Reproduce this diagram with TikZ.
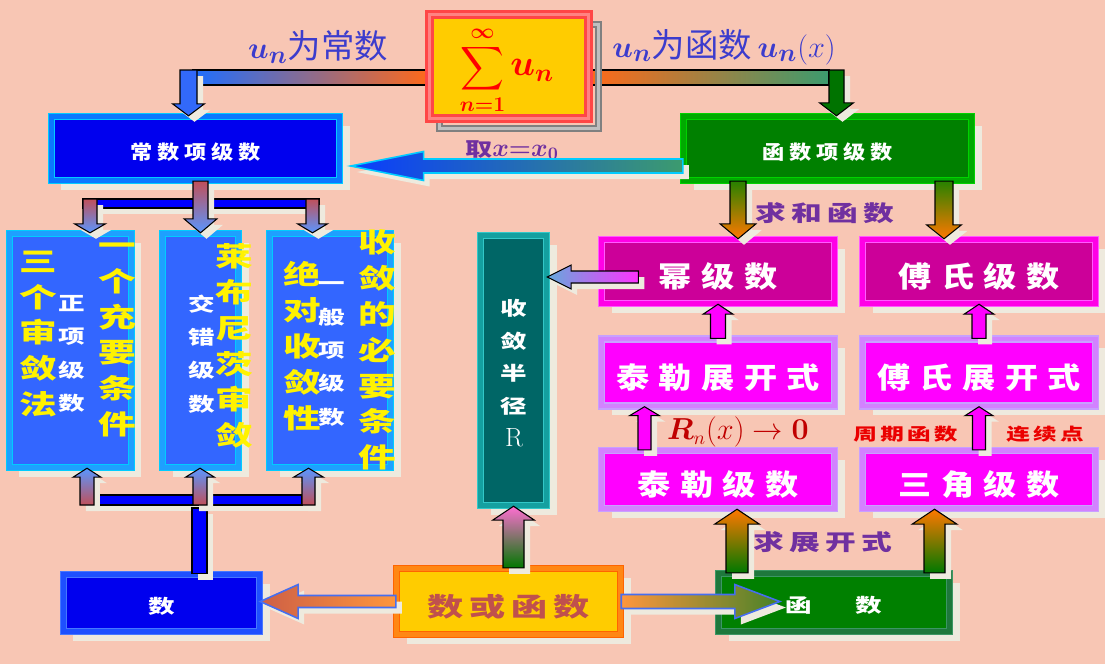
\documentclass[tikz,border=0pt]{standalone}
\usepackage{exscale}
\usepackage{fontspec}
\usepackage{bm}
\usetikzlibrary{calc,shadows}
\newfontfamily\hzn{Noto Sans CJK SC}
\newfontfamily\hz{Noto Sans CJK SC}[FakeStretch=1.15]
\newfontfamily\hzk{Noto Sans CJK SC}[FakeStretch=1.4]
\pgfdeclarelayer{unten}
\pgfsetlayers{unten,main}

\definecolor{hg}{RGB}{248,198,180}
\definecolor{schatten}{RGB}{238,234,222}
\definecolor{dblau}{RGB}{0,0,238}
\definecolor{mblau}{RGB}{51,102,255}
\definecolor{hcyan}{RGB}{0,204,255}
\definecolor{blaurand}{RGB}{10,120,255}
\definecolor{cyanband}{RGB}{30,160,255}
\definecolor{dgruen}{RGB}{0,128,0}
\definecolor{hgruen}{RGB}{0,210,0}
\definecolor{gruenband}{RGB}{0,170,0}
\definecolor{seegruen}{RGB}{60,150,100}
\definecolor{seeband}{RGB}{30,120,60}
\definecolor{rosa}{RGB}{255,0,255}
\definecolor{purpur}{RGB}{204,0,153}
\definecolor{rosarand}{RGB}{255,90,255}
\definecolor{purpurband}{RGB}{255,0,230}
\definecolor{lavendel}{RGB}{200,160,255}
\definecolor{lavband}{RGB}{210,130,255}
\definecolor{petrol}{RGB}{0,102,102}
\definecolor{tuerkis}{RGB}{50,200,200}
\definecolor{tuerkisband}{RGB}{20,160,160}
\definecolor{gold}{RGB}{255,204,0}
\definecolor{orangerand}{RGB}{255,100,0}
\definecolor{orangeband}{RGB}{255,135,20}
\definecolor{rotrand}{RGB}{255,70,70}
\definecolor{hellrot}{RGB}{255,130,130}
\definecolor{shublau}{RGB}{70,120,255}
\definecolor{shuband}{RGB}{30,80,255}
\definecolor{textblau}{RGB}{60,60,205}
\definecolor{textlila}{RGB}{112,48,160}
\definecolor{textrot}{RGB}{192,0,0}
\definecolor{knallrot}{RGB}{235,0,0}
\definecolor{rostbraun}{RGB}{192,80,77}
\definecolor{pblau}{RGB}{50,105,250}
\definecolor{pgruen}{RGB}{0,115,0}
\definecolor{bblau}{RGB}{30,110,255}
\definecolor{borange}{RGB}{255,105,25}
\definecolor{bteal}{RGB}{60,155,110}
\definecolor{qblau}{RGB}{10,60,255}
\definecolor{rbraun}{RGB}{192,80,90}
\definecolor{hblau}{RGB}{90,150,255}
\definecolor{rostrot}{RGB}{205,95,70}
\definecolor{porange}{RGB}{255,150,60}
\definecolor{oliv}{RGB}{70,130,40}
\definecolor{pinkhell}{RGB}{255,110,210}
\definecolor{gruenpf}{RGB}{0,120,0}
\definecolor{dorange}{RGB}{255,120,0}
\definecolor{gruenoben}{RGB}{40,130,0}
\definecolor{eisblau}{RGB}{100,170,220}
\definecolor{pinkpf}{RGB}{255,50,255}
\definecolor{rahmenblau}{RGB}{70,110,240}
\definecolor{reinblau}{RGB}{0,0,255}

\tikzset{
    kasten/.style={inner sep=0pt, line width=0.8pt, double distance=2.4pt,
        general shadow={fill=schatten, draw=none, shadow xshift=0.2cm, shadow yshift=-0.18cm}},
    gr/.style 2 args={minimum width=#1*0.02cm, minimum height=#2*0.02cm},
    blaukasten/.style={kasten, fill=dblau, draw=hcyan, double=blaurand},
    mittelkasten/.style={kasten, fill=mblau, draw=hcyan, double=cyanband},
    gruenkasten/.style={kasten, fill=dgruen, draw=hgruen, double=gruenband},
    seekasten/.style={kasten, fill=dgruen, draw=seegruen, double=seeband},
    purpurkasten/.style={kasten, fill=purpur, draw=rosarand, double=purpurband},
    rosakasten/.style={kasten, fill=rosa, draw=lavendel, double=lavband},
    petrolkasten/.style={kasten, fill=petrol, draw=tuerkis, double=tuerkisband},
    goldkasten/.style={kasten, fill=gold, draw=orangerand, double=orangeband},
    shukasten/.style={kasten, fill=dblau, draw=shublau, double=shuband},
    summenkasten/.style={inner sep=0pt, fill=gold, draw=rotrand, double=hellrot,
        line width=1.2pt, double distance=2.2pt,
        general shadow={fill=none, draw=gray, double=lightgray, line width=1pt,
            double distance=2pt, shadow xshift=0.2cm, shadow yshift=-0.2cm}},
    weiss/.style={text=white, text height=13.7pt, text depth=1.3pt,
        font=\fontsize{11}{13}\selectfont\hz\bfseries\addfontfeature{LetterSpace=24}},
    gross/.style={text=white, text height=20pt, text depth=2pt,
        font=\fontsize{16.4}{18}\selectfont\hz\bfseries\addfontfeature{LetterSpace=33}},
    einzeln/.style={text=white, text height=13.1pt, text depth=1.3pt,
        font=\fontsize{10.8}{13}\selectfont\hzk\bfseries},
    goldschrift/.style={text=rostbraun, text height=19.1pt, text depth=1.8pt,
        font=\fontsize{14.7}{17}\selectfont\hzk\bfseries\addfontfeature{LetterSpace=23}},
    gelb/.style={text=yellow, align=center, font=\fontsize{15.3}{20.4}\selectfont\hzk\bfseries},
    klein/.style={text=white, align=center, font=\fontsize{10.8}{19}\selectfont\hzk\bfseries},
    blauschrift/.style={text=textblau, font=\fontsize{19}{21}\selectfont\hzn},
    lilaschrift/.style={text=textlila, font=\fontsize{12.5}{14}\selectfont\hzk\bfseries\addfontfeature{LetterSpace=23}},
    rotschrift/.style={text=knallrot, font=\fontsize{9.6}{11}\selectfont\hzk\bfseries\addfontfeature{LetterSpace=19}},
    pfeilrand/.style={line width=0.6pt,
        general shadow={fill=schatten, draw=none, shadow xshift=0.12cm, shadow yshift=-0.12cm}},
    pfeil/.style n args={3}{to path={
        -- ($(\tikztostart)!#1*0.02cm!90:(\tikztotarget)$)
        -- ($($(\tikztotarget)!#3*0.02cm!(\tikztostart)$)!#1*0.02cm!90:(\tikztotarget)$)
        -- ($($(\tikztotarget)!#3*0.02cm!(\tikztostart)$)!#2*0.02cm!90:(\tikztotarget)$)
        -- (\tikztotarget)
        -- ($($(\tikztotarget)!#3*0.02cm!(\tikztostart)$)!#2*0.02cm!-90:(\tikztotarget)$)
        -- ($($(\tikztotarget)!#3*0.02cm!(\tikztostart)$)!#1*0.02cm!-90:(\tikztotarget)$)
        -- ($(\tikztostart)!#1*0.02cm!-90:(\tikztotarget)$)
        -- cycle}}
}

\begin{document}
\begin{tikzpicture}[x=0.02cm,y=-0.02cm]
    \useasboundingbox (0,0) rectangle (1105,664);
    \begin{pgfonlayer}{unten}
        \fill[hg] (0,0) rectangle (1105,664);
    \end{pgfonlayer}

    \node[summenkasten, gr={159}{104}] (sum) at (509,66.5) {};
    \node[text=red, inner sep=0pt] (sumtext) at (507,70)
        {\fontsize{17}{19}\selectfont$\displaystyle\sum_{\bm{n=1}}^{\bm{\infty}}\mbox{\fontsize{20}{22}\selectfont$\bm{u}_{\bm{n}}$}$};
    \node[blaukasten, gr={288}{64}, weiss] (csx) at (195.5,148.5) {常数项级数};
    \node[gruenkasten, gr={288}{64}, weiss] (hsx) at (827.5,148.5) {函数项级数};
    \node[mittelkasten, gr={122}{234}] (za) at (70.5,350.5) {};
    \node[mittelkasten, gr={76}{234}] (zb) at (200.5,350.5) {};
    \node[mittelkasten, gr={121}{234}] (zc) at (330,350.5) {};
    \node[petrolkasten, gr={66}{270}] (rk) at (513.5,370.5) {};
    \node[purpurkasten, gr={233}{64}, gross] (mj) at (718,271.5) {幂级数};
    \node[purpurkasten, gr={233}{64}, gross] (fj) at (979,271.5) {傅氏级数};
    \node[rosakasten, gr={233}{67}, gross] (tz) at (718,372.5) {泰勒展开式};
    \node[rosakasten, gr={233}{67}, gross] (fz) at (979,372.5) {傅氏展开式};
    \node[rosakasten, gr={233}{58}, gross] (tl) at (718,479.5) {泰勒级数};
    \node[rosakasten, gr={233}{58}, gross] (tj) at (979,479.5) {三角级数};
    \node[shukasten, gr={196}{57}, einzeln] (shu) at (161.5,603) {数};
    \node[goldkasten, gr={224}{66}, goldschrift] (sxhs) at (508.5,601.5) {数或函数};
    \node[seekasten, gr={231}{58}, einzeln] (hs) at (834,602.5) {函\hspace{2.3em}数};

    \node[gelb] (a1) at (38,334) {三\\个\\审\\敛\\法};
    \node[klein] (a2) at (72,354) {正\\项\\级\\数};
    \node[gelb] (a3) at (117,340) {一\\个\\充\\要\\条\\件};
    \node[klein] (b1) at (202,354) {交\\错\\级\\数};
    \node[gelb] (b2) at (234,346) {莱\\布\\尼\\茨\\审\\敛};
    \node[gelb] (c1) at (302,346) {绝\\对\\收\\敛\\性};
    \node[klein] (c2) at (332,354) {一\\般\\项\\级\\数};
    \node[gelb] (c3) at (377,350) {收\\敛\\的\\必\\要\\条\\件};
    \node[klein, font=\fontsize{10.8}{18.7}\selectfont\hzk\bfseries] (r1) at (514,373)
        {收\\敛\\半\\径\\{\normalfont\fontsize{15}{18.7}\selectfont R}};

    \node[blauschrift] (lc) at (318,47) {$\bm{u}_{\bm{n}}$为常数};
    \node[blauschrift] (rc) at (724,47) {$\bm{u}_{\bm{n}}$为函数\,$\bm{u}_{\bm{n}}(x)$};
    \node[text=textlila] (qx) at (512,150)
        {{\fontsize{11}{13}\selectfont\hzk\bfseries 取}{\fontsize{14}{16}\selectfont$\bm{x{=}x_0}$}};
    \node[lilaschrift] (qh) at (825,213) {求和函数};
    \node[lilaschrift] (qz) at (823,542) {求展开式};
    \node[text=textrot, font=\fontsize{16}{18}\selectfont] (rn) at (738,432) {$\bm{R}_{n}(x)\to\bm{0}$};
    \node[rotschrift] (zq) at (905.5,434) {周期函数};
    \node[rotschrift] (lx) at (1045,434) {连续点};

    \coordinate (kl) at (188.5,70);
    \coordinate (kr) at (836.5,70);
    \begin{pgfonlayer}{unten}
        \path[draw=black, line width=0.6pt, left color=bblau, right color=borange]
            ($(kl)+(4.5,0)$) rectangle ($(sum.west)+(0,18.5)$);
        \path[draw=black, line width=0.6pt, left color=borange, right color=bteal]
            ($(sum.east)+(0,3.5)$) rectangle ($(kr)+(-7.5,15)$);
    \end{pgfonlayer}
    \path[pfeilrand, draw=black, fill=pblau] (kl) to[pfeil={8.5}{16}{12}] (kl |- csx.north);
    \path[pfeilrand, draw=black, fill=pgruen] (kr) to[pfeil={7.5}{17}{13}] (kr |- hsx.north);

    \coordinate (q1) at ($(hsx.west)+(0,17.5)$);
    \coordinate (q2) at ($(csx.east |- q1)+(10.5,0)$);
    \path[pfeilrand, draw=hcyan, line width=0.9pt, left color=qblau, right color=bteal]
        (q1) to[pfeil={7}{14.5}{73}] (q2);

    \coordinate (t1) at (90,199);
    \coordinate (t3) at (312.5,199);
    \path[pfeilrand, draw=black, fill=reinblau] ($(t1)+(-7,0)$) rectangle ($(t3)+(6.5,9)$);
    \path[pfeilrand, draw=black, top color=rbraun, bottom color=hblau] (t1) to[pfeil={7}{15.5}{9}] (t1 |- za.north);
    \path[pfeilrand, draw=black, top color=rbraun, bottom color=hblau] (t3) to[pfeil={6.5}{15}{9}] (t3 |- zc.north);
    \path[pfeilrand, draw=black, top color=rbraun, bottom color=hblau] (csx.south -| zb.north) to[pfeil={7.5}{16.5}{14}] (zb.north);

    \coordinate (u1) at (87,505);
    \coordinate (u2) at (200,505);
    \coordinate (u3) at (308.5,505);
    \path[pfeilrand, draw=black, fill=reinblau] ($(u1)+(7,-10)$) rectangle ($(u3)+(-6.5,0)$);
    \path[pfeilrand, draw=black, fill=reinblau] ($(u2)+(-8,3)$) rectangle ($(u2 |- shu.north)+(7,0)$);
    \path[pfeilrand, draw=black, top color=hblau, bottom color=rbraun] (u1) to[pfeil={7}{14}{9}] (u1 |- za.south);
    \path[pfeilrand, draw=black, top color=hblau, bottom color=rbraun] (u2) to[pfeil={7}{14.5}{9}] (u2 |- zb.south);
    \path[pfeilrand, draw=black, top color=hblau, bottom color=rbraun] (u3) to[pfeil={6.5}{15}{9}] (u3 |- zc.south);

    \path[pfeilrand, draw=rahmenblau, line width=0.9pt, left color=rostrot, right color=porange]
        (sxhs.west) to[pfeil={6}{17}{38}] (shu.east |- sxhs.west);
    \coordinate (g1) at ($(hs.west)+(62,0)$);
    \path[pfeilrand, draw=rahmenblau, line width=0.9pt, left color=porange, right color=oliv]
        (sxhs.east) to[pfeil={7}{17}{45}] (g1 |- sxhs.east);
    \path[pfeilrand, draw=black, top color=pinkhell, bottom color=gruenpf]
        (rk.south |- sxhs.north) to[pfeil={10.5}{21}{14}] (rk.south);

    \coordinate (e1) at ($(hs.north)+(-97,0)$);
    \coordinate (e2) at ($(hs.north)+(100.5,0)$);
    \path[pfeilrand, draw=black, top color=dorange, bottom color=gruenpf] (e1) to[pfeil={11}{22.5}{15}] (e1 |- tl.south);
    \path[pfeilrand, draw=black, top color=dorange, bottom color=gruenpf] (e2) to[pfeil={10.5}{22.5}{15}] (e2 |- tj.south);

    \coordinate (k1) at ($(tl.north)+(-73.5,0)$);
    \path[pfeilrand, draw=black, fill=rosa] (k1) to[pfeil={6.5}{15}{9}] (k1 |- tz.south);
    \path[pfeilrand, draw=black, fill=rosa] (tj.north) to[pfeil={6.5}{14}{9}] (fz.south);
    \path[pfeilrand, draw=black, fill=rosa] (tz.north) to[pfeil={7.5}{15}{10}] (mj.south);
    \path[pfeilrand, draw=black, fill=rosa] (fz.north) to[pfeil={7}{15}{10}] (fj.south);

    \coordinate (o1) at ($(hsx.south)+(-89.5,0)$);
    \coordinate (o2) at ($(hsx.south)+(116.5,0)$);
    \path[pfeilrand, draw=black, top color=gruenoben, bottom color=dorange] (o1) to[pfeil={8}{18}{15}] (o1 |- mj.north);
    \path[pfeilrand, draw=black, top color=gruenoben, bottom color=dorange] (o2) to[pfeil={9}{17.5}{14}] (o2 |- fj.north);

    \coordinate (m1) at ($(mj.west)+(37.5,5.5)$);
    \path[pfeilrand, draw=black, left color=eisblau, right color=pinkpf] (m1) to[pfeil={6}{12}{24}] (rk.east |- m1);
\end{tikzpicture}
\end{document}
